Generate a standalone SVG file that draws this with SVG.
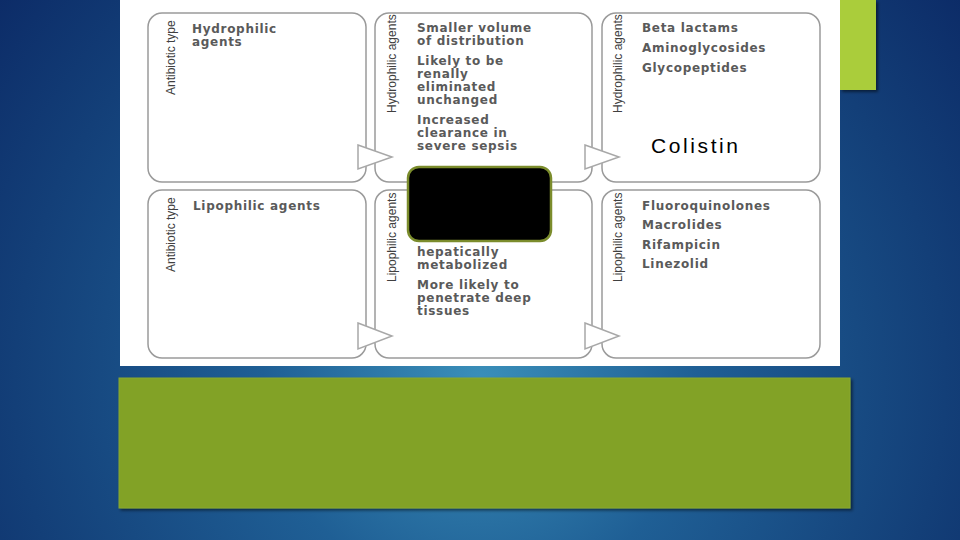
<svg xmlns="http://www.w3.org/2000/svg" width="960" height="540" viewBox="0 0 960 540">
<defs>
<radialGradient id="bg" cx="480" cy="380" r="620" gradientUnits="userSpaceOnUse">
<stop offset="0" stop-color="#3a8fb9"/>
<stop offset="0.35" stop-color="#1f5f95"/>
<stop offset="0.75" stop-color="#133f78"/>
<stop offset="1" stop-color="#0c2b67"/>
</radialGradient>
<filter id="sh" x="-10%" y="-10%" width="130%" height="130%">
<feDropShadow dx="2" dy="2" stdDeviation="1.5" flood-color="#000" flood-opacity="0.5"/>
</filter>
</defs>
<style>
.box{fill:#fff;stroke:#9a9a9a;stroke-width:1.5}
.t{font-family:"DejaVu Sans",sans-serif;font-weight:bold;font-size:12px;letter-spacing:0.7px;fill:#5a5a5a}
.v{font-family:"Liberation Sans",Arial,sans-serif;font-size:12px;fill:#404040}
.arr{fill:#fff;stroke:#a8a8a8;stroke-width:1.5;stroke-linejoin:miter}
</style>
<rect x="0" y="0" width="960" height="540" fill="url(#bg)"/>
<rect x="840" y="0" width="36" height="90" fill="#aacd3a" filter="url(#sh)"/>
<rect x="120" y="0" width="720" height="366" fill="#fff"/>
<rect x="119" y="378" width="731" height="130" fill="#82a225" stroke="#8aa832" stroke-width="1" filter="url(#sh)"/>

<g id="node-hydrophilic-type">
<rect class="box" x="148" y="13" width="218" height="169" rx="14"/>
<text class="v" transform="translate(175,95) rotate(-90)">Antibiotic type</text>
<text class="t" x="192" y="33">Hydrophilic</text>
<text class="t" x="192" y="46">agents</text>
</g>
<g id="node-hydrophilic-props">
<rect class="box" x="375" y="13" width="217" height="169" rx="14"/>
<text class="v" transform="translate(396,113) rotate(-90)">Hydrophilic agents</text>
<text class="t" x="417" y="32">Smaller volume</text>
<text class="t" x="417" y="45">of distribution</text>
<text class="t" x="417" y="65">Likely to be</text>
<text class="t" x="417" y="78">renally</text>
<text class="t" x="417" y="91">eliminated</text>
<text class="t" x="417" y="104">unchanged</text>
<text class="t" x="417" y="124">Increased</text>
<text class="t" x="417" y="137">clearance in</text>
<text class="t" x="417" y="150">severe sepsis</text>
</g>
<g id="node-hydrophilic-examples">
<rect class="box" x="602" y="13" width="218" height="169" rx="14"/>
<text class="v" transform="translate(622,113) rotate(-90)">Hydrophilic agents</text>
<text class="t" x="642" y="32">Beta lactams</text>
<text class="t" x="642" y="52">Aminoglycosides</text>
<text class="t" x="642" y="72">Glycopeptides</text>
<text x="651" y="153" font-family="Liberation Sans, Arial, sans-serif" font-size="21" fill="#000" textLength="87" lengthAdjust="spacing">Colistin</text>
</g>
<g id="node-lipophilic-type">
<rect class="box" x="148" y="190" width="218" height="168" rx="14"/>
<text class="v" transform="translate(175,272) rotate(-90)">Antibiotic type</text>
<text class="t" x="193" y="210">Lipophilic agents</text>
</g>
<g id="node-lipophilic-props">
<rect class="box" x="375" y="190" width="217" height="168" rx="14"/>
<text class="v" transform="translate(396,282) rotate(-90)">Lipophilic agents</text>
<text class="t" x="417" y="256">hepatically</text>
<text class="t" x="417" y="269">metabolized</text>
<text class="t" x="417" y="289">More likely to</text>
<text class="t" x="417" y="302">penetrate deep</text>
<text class="t" x="417" y="315">tissues</text>
</g>
<g id="node-lipophilic-examples">
<rect class="box" x="602" y="190" width="218" height="168" rx="14"/>
<text class="v" transform="translate(622,282) rotate(-90)">Lipophilic agents</text>
<text class="t" x="642" y="210">Fluoroquinolones</text>
<text class="t" x="642" y="229">Macrolides</text>
<text class="t" x="642" y="249">Rifampicin</text>
<text class="t" x="642" y="268">Linezolid</text>
</g>
<g id="connectors">
<polygon class="arr" points="358,145 392,157 358,169"/>
<polygon class="arr" points="585,145 619,157 585,169"/>
<polygon class="arr" points="358,323 392,336 358,349"/>
<polygon class="arr" points="585,323 619,336 585,349"/>
</g>
<g id="node-mask">
<rect x="408" y="167" width="143" height="74" rx="11" fill="#000" stroke="#7b8c2c" stroke-width="2.5"/>
</g>
</svg>
